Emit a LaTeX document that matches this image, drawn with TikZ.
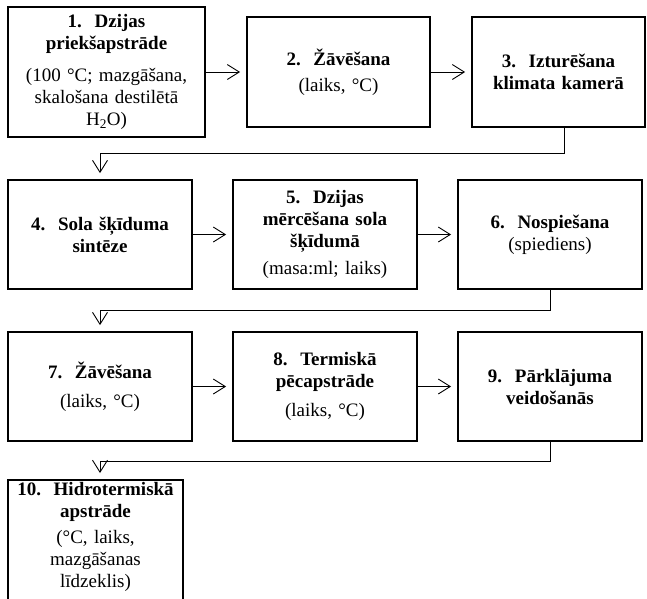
\documentclass[tikz,border=0pt]{standalone}
\usepackage{fontspec}
\setmainfont{Liberation Serif}
\usetikzlibrary{positioning}
\usetikzlibrary{calc}
\usetikzlibrary{arrows.meta}

\begin{document}
\begin{tikzpicture}
 [ x=1pt
 , y=-1pt
 , stage/.style={draw, line width=1.8pt, align=center, inner sep=4pt, font=\fontsize{19}{22}\selectfont}
 , wide/.style={minimum width=184pt, minimum height=109pt, text width=176pt}
 , narrow/.style={minimum width=175pt, minimum height=110pt, text width=167pt}
 , link/.style={line width=0.9pt}
 , flow/.style={link, -{Straight Barb[length=12pt,width=15pt]}, shorten >=6pt}
 ]
  \useasboundingbox (0,0) rectangle (647,598);

  % first row
  \node [stage, minimum width=197pt, minimum height=130pt, text width=189pt] (s1) at (106.5,72)
    {\textbf{1.\ \ Dzijas}\\\textbf{priekšapstrāde}\\[10pt](100 °C; mazgāšana,\\skalošana destilētā\\H\textsubscript{2}O)};
  \node [stage, narrow, minimum width=183pt, text width=175pt] (s2) at (338.5,72)
    {\textbf{2.\ \ Žāvēšana}\\[4pt](laiks, °C)};
  \node [stage, narrow, minimum width=173pt, text width=165pt] (s3) at (558.5,72)
    {\textbf{3.\ \ Izturēšana}\\\textbf{klimata kamerā}};

  % second row
  \node [stage, wide] (s4) at (100,234.5)
    {\textbf{4.\ \ Sola šķīduma}\\\textbf{sintēze}};
  \node [stage, wide] (s5) at (325,234.5)
    {\textbf{5.\ \ Dzijas}\\\textbf{mērcēšana sola}\\\textbf{šķīdumā}\\[5pt](masa:ml; laiks)};
  \node [stage, wide] (s6) at (550,234.5)
    {\textbf{6.\ \ Nospiešana}\\(spiediens)};

  % third row
  \node [stage, wide] (s7) at (100,386.5)
    {\textbf{7.\ \ Žāvēšana}\\[7pt](laiks, °C)};
  \node [stage, wide] (s8) at (325,386.5)
    {\textbf{8.\ \ Termiskā}\\\textbf{pēcapstrāde}\\[7pt](laiks, °C)};
  \node [stage, wide] (s9) at (550,386.5)
    {\textbf{9.\ \ Pārklājuma}\\\textbf{veidošanās}};

  % last one, cut by the page
  \node [stage, anchor=north, minimum width=175pt, text width=167pt, inner ysep=2pt] (s10) at (95.5,479)
    {\textbf{10.\ \ Hidrotermiskā}\\\textbf{apstrāde}\\[4pt](°C, laiks,\\mazgāšanas\\līdzeklis)\\[10pt]\strut};

  \draw [flow] (s1.east |- s2.west) -- (s2.west);
  \draw [flow] (s2.east) -- (s3.west);
  \draw [flow] (s4.east) -- (s5.west);
  \draw [flow] (s5.east) -- (s6.west);
  \draw [flow] (s7.east) -- (s8.west);
  \draw [flow] (s8.east) -- (s9.west);

  \draw [flow] ([xshift=5.5pt]s3.south) -- ++(0,26) -| (s4.north);
  \draw [flow] (s6.south) -- ++(0,21) -| (s7.north);
  \draw [flow] (s9.south) -- ++(0,20) -| ([xshift=4.5pt]s10.north);
\end{tikzpicture}
\end{document}
